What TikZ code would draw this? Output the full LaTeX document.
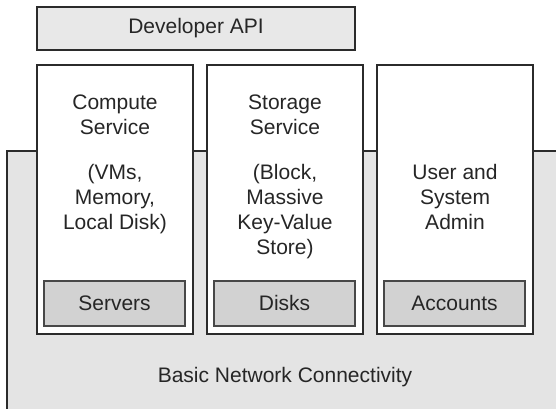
\documentclass[tikz,border=0pt]{standalone}
\usepackage{fontspec}
\setmainfont{Liberation Sans}
\definecolor{ink}{HTML}{262626}
\definecolor{edge}{HTML}{2B2B2B}
\definecolor{inneredge}{HTML}{484848}
\definecolor{basefill}{HTML}{E4E4E4}
\definecolor{apifill}{HTML}{E8E8E8}
\definecolor{resfill}{HTML}{D2D2D2}
\begin{document}
\begin{tikzpicture}[x=1pt,y=-1pt,
  every node/.style={text=ink,font=\fontsize{21}{25}\selectfont,inner sep=0pt},
  layer/.style={draw=edge,line width=1.3pt,fill=apifill},
  service/.style={draw=edge,line width=1.3pt,fill=white},
  resource/.style={draw=inneredge,line width=1.6pt,fill=resfill},
  caption/.style={align=center,anchor=base}]
\useasboundingbox (0,0) rectangle (556,408);
\clip (0,0) rectangle (556,408);

% network layer underneath everything
\draw[draw=edge,line width=1.3pt,fill=basefill] (7,151) rectangle (570,420);
\node[caption] (net) at (285,382) {Basic Network Connectivity};

% developer API strip
\draw[layer] (37,7) rectangle (355,50);
\node (api) at (196,28.5) {Developer API};

% service columns
\draw[service] (37,65) rectangle (193,334);
\draw[service] (207,65) rectangle (363,334);
\draw[service] (377,65) rectangle (533,334);

% multi-line captions sit on the baseline of their last line
\node[caption] (compute) at (115,229.3) {Compute\\Service\\[20pt](VMs,\\Memory,\\Local Disk)};
\node[caption] (storage) at (285,254) {Storage\\Service\\[20pt](Block,\\Massive\\Key-Value\\Store)};
\node[caption] (admin) at (455,229.3) {User and\\System\\Admin};

% resources at the foot of each column
\draw[resource] (44,281) rectangle (185,326);
\draw[resource] (214,281) rectangle (355,326);
\draw[resource] (384,281) rectangle (525,326);
\node[caption] (servers) at (114.5,310) {Servers};
\node[caption] (disks) at (284.5,310) {Disks};
\node[caption] (accounts) at (454.5,310) {Accounts};
\end{tikzpicture}
\end{document}
